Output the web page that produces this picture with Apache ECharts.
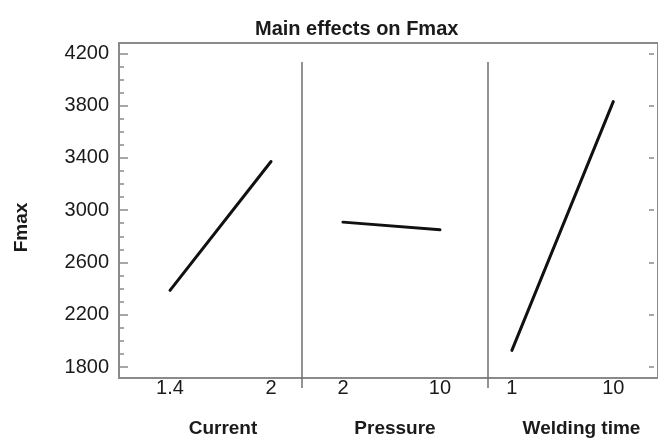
<!DOCTYPE html>
<html>
<head>
<meta charset="utf-8">
<script src="https://cdn.jsdelivr.net/npm/echarts@6/dist/echarts.min.js"></script>
<style>
  html, body { margin: 0; padding: 0; background: #fff; }
  #main { width: 658px; height: 443px; }
</style>
</head>
<body>
<div id="main"></div>
<script>
// factor levels (low, high) and the mean Fmax read at each level
var currentLevels = [1.4, 2];
var currentFmax = [2340, 3350];
var pressureLevels = [2, 10];
var pressureFmax = [2875, 2815];
var timeLevels = [1, 10];
var timeFmax = [1870, 3820];

var factorNames = ["Current", "Pressure", "Welding time"];
var yTicks = [1800, 2200, 2600, 3000, 3400, 3800, 4200];
var yMinorTicks = [1800, 1900, 2000, 2100, 2200, 2300, 2400, 2500, 2600, 2700, 2800, 2900,
  3000, 3100, 3200, 3300, 3400, 3500, 3600, 3700, 3800, 3900, 4000, 4100, 4200];

var font = "'Liberation Sans', Arial, sans-serif";
var gray = "#8a8a8a";
var yMin = 1716, yMax = 4279;

var chart = echarts.init(document.getElementById("main"));

function plain(v) { return String(v); }

function panelX(idx, levels, min, max, name, shift) {
  return {
    type: "value",
    gridIndex: idx,
    min: min,
    max: max,
    name: name,
    nameLocation: "middle",
    nameGap: 49,
    nameTextStyle: {
      fontFamily: font, fontSize: 19, fontWeight: "bold", color: "#1a1a1a",
      padding: [0, 0, 0, shift]
    },
    axisLine: { show: false },
    axisTick: { show: false },
    splitLine: { show: false },
    axisLabel: {
      customValues: levels, formatter: plain,
      fontFamily: font, fontSize: 20, color: "#1a1a1a", margin: 8
    }
  };
}

function hiddenY(idx) {
  return {
    type: "value", gridIndex: idx, min: yMin, max: yMax,
    axisLine: { show: false }, axisTick: { show: false },
    axisLabel: { show: false }, splitLine: { show: false }
  };
}

function effect(idx, levels, values) {
  var pts = [];
  for (var i = 0; i < levels.length; i++) pts.push([levels[i], values[i]]);
  return {
    type: "line",
    xAxisIndex: idx,
    yAxisIndex: idx + 2,
    data: pts,
    showSymbol: false,
    silent: true,
    lineStyle: { color: "#111", width: 3, cap: "round" }
  };
}

chart.setOption({
  animation: false,
  title: {
    text: "Main effects on Fmax",
    left: 250,
    top: 14,
    textStyle: { fontFamily: font, fontSize: 20, fontWeight: "bold", color: "#1a1a1a" }
  },
  grid: [
    { left: 119, top: 43, right: -3, bottom: 65, show: true, borderColor: gray, borderWidth: 2 },
    { left: 119, top: 43, width: 183, bottom: 65 },
    { left: 302, top: 43, width: 186, bottom: 65 },
    { left: 488, top: 43, width: 171, bottom: 65 }
  ],
  xAxis: [
    { type: "value", gridIndex: 0, show: false, min: 0, max: 1 },
    panelX(1, currentLevels, 1.097, 2.184, factorNames[0], 25),
    panelX(2, pressureLevels, -1.38, 13.96, factorNames[1], 0),
    panelX(3, timeLevels, -1.12, 13.97, factorNames[2], 17)
  ],
  yAxis: [
    {
      type: "value", gridIndex: 0, position: "left", min: yMin, max: yMax,
      name: "Fmax", nameLocation: "middle", nameGap: 88,
      nameTextStyle: { fontFamily: font, fontSize: 19, fontWeight: "bold", color: "#1a1a1a", padding: [0, 34, 0, 0] },
      axisLine: { show: false },
      axisTick: { customValues: yTicks, inside: true, length: 9, lineStyle: { color: gray, width: 1.5 } },
      axisLabel: { customValues: yTicks, formatter: plain, fontFamily: font, fontSize: 20, color: "#1a1a1a", margin: 10 },
      splitLine: { show: false }
    },
    {
      type: "value", gridIndex: 0, position: "left", min: yMin, max: yMax,
      axisLine: { show: false },
      axisTick: { customValues: yMinorTicks, inside: true, length: 5, lineStyle: { color: gray, width: 1.5 } },
      axisLabel: { show: false },
      splitLine: { show: false }
    },
    {
      type: "value", gridIndex: 0, position: "right", offset: -4, min: yMin, max: yMax,
      axisLine: { show: false },
      axisTick: { customValues: yTicks, inside: true, length: 5, lineStyle: { color: gray, width: 1.5 } },
      axisLabel: { show: false },
      splitLine: { show: false }
    },
    hiddenY(1),
    hiddenY(2),
    hiddenY(3)
  ],
  graphic: [
    { type: "line", shape: { x1: 302, y1: 62, x2: 302, y2: 388 }, style: { stroke: "#6f6f6f", lineWidth: 1.5 } },
    { type: "line", shape: { x1: 488, y1: 62, x2: 488, y2: 388 }, style: { stroke: "#6f6f6f", lineWidth: 1.5 } }
  ],
  series: [
    effect(1, currentLevels, currentFmax),
    effect(2, pressureLevels, pressureFmax),
    effect(3, timeLevels, timeFmax)
  ]
});
</script>
</body>
</html>
